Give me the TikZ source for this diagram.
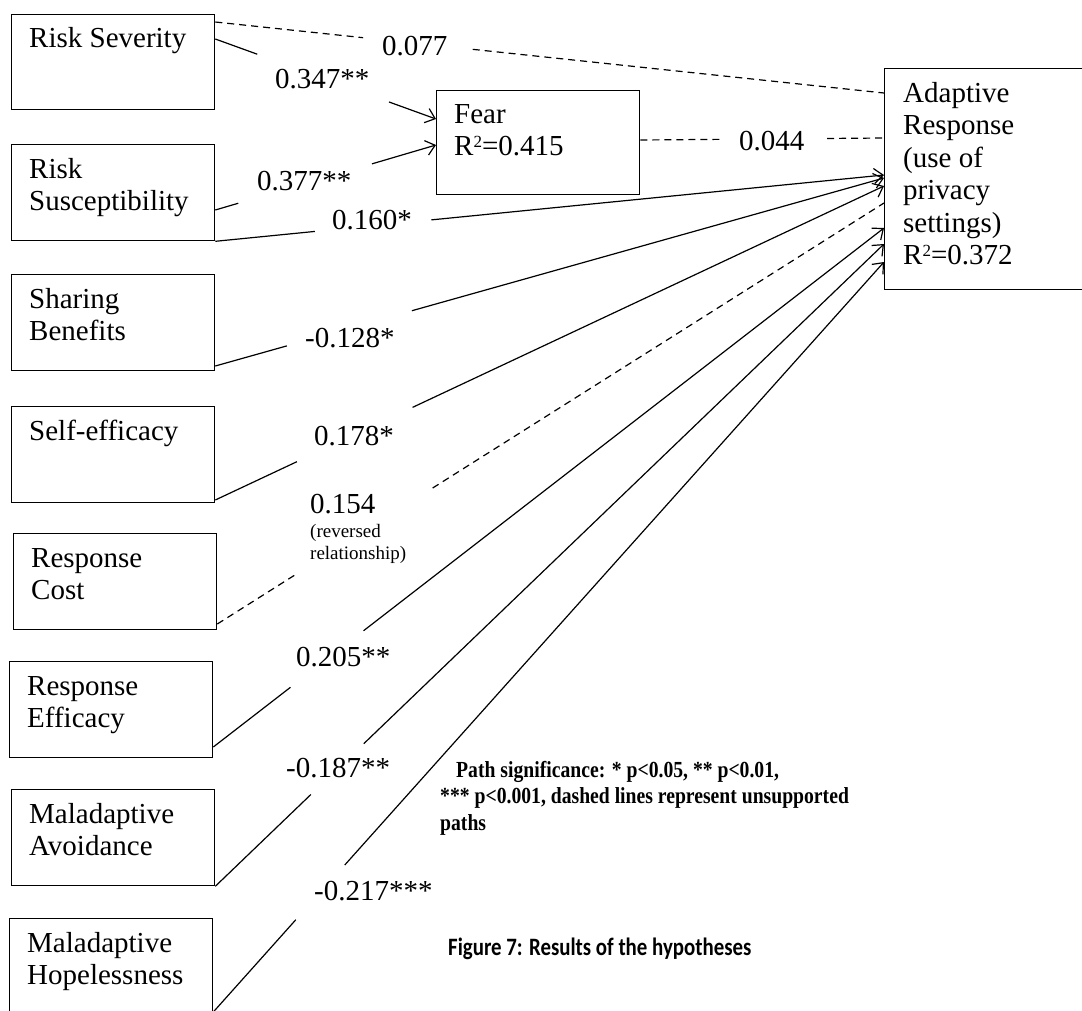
\documentclass[tikz,border=0pt]{standalone}
\usepackage{fontspec}
\setmainfont{Liberation Serif}
\newfontfamily\capfamily[FakeStretch=0.835]{Carlito}
\newfontfamily\notefamily[FakeStretch=0.855]{Liberation Serif}
\usetikzlibrary{arrows.meta,calc}
\newcommand\boxfont{\fontsize{29}{32.5}\selectfont}
\newcommand\smallfont{\fontsize{19}{22}\selectfont}
\newcommand\notefont{\notefamily\bfseries\fontsize{23}{26.5}\selectfont}
\newcommand\capfont{\capfamily\bfseries\fontsize{25}{28}\selectfont}
\newcommand\sqtwo{\raisebox{8pt}{\fontsize{17}{17}\selectfont 2}}
\begin{document}
\begin{tikzpicture}[x=1pt,y=-1pt,
  box/.style={draw, line width=1.3pt, anchor=north west, inner sep=0pt},
  stdbox/.style={box, minimum width=203pt, minimum height=96pt},
  btext/.style={anchor=north west, inner sep=0pt, align=left, font=\boxfont, xshift=18pt, yshift=-13pt},
  lab/.style={anchor=base west, inner sep=0pt, font=\boxfont},
  conn/.style={line width=1.2pt},
  dsh/.style={conn, dash pattern=on 7pt off 5pt},
  arr/.style={conn, -{Straight Barb[length=9pt,width=15pt]}}]

\fill[white] (0,0) rectangle (1082,1010);
\useasboundingbox (0,0) rectangle (1082,1010);
\clip (0,0) rectangle (1082,1010);

% ---------- boxes ----------
\node[stdbox, minimum height=95pt, label={[btext, yshift=1pt]north west:{\rule{0pt}{21pt}Risk Severity}}] (rs) at (11,14) {};
\node[stdbox, label={[btext]north west:{\rule{0pt}{21pt}Risk\\Susceptibility}}] (rsu) at (11,144) {};
\node[stdbox, label={[btext]north west:{\rule{0pt}{21pt}Sharing\\Benefits}}] (sb) at (11,274) {};
\node[stdbox, label={[btext]north west:{\rule{0pt}{21pt}Self-efficacy}}] (se) at (11,406) {};
\node[stdbox, label={[btext]north west:{\rule{0pt}{21pt}Response\\Cost}}] (rc) at (13,533) {};
\node[stdbox, label={[btext]north west:{\rule{0pt}{21pt}Response\\Efficacy}}] (re) at (9,661) {};
\node[stdbox, label={[btext]north west:{\rule{0pt}{21pt}Maladaptive\\Avoidance}}] (ma) at (11,789) {};
\node[stdbox, label={[btext]north west:{\rule{0pt}{21pt}Maladaptive\\Hopelessness}}] (mh) at (9,918) {};
\node[box, minimum width=203pt, minimum height=104pt, label={[btext, yshift=1pt]north west:{\rule{0pt}{21pt}Fear\\R\sqtwo=0.415}}] (fear) at (436,90) {};
\node[box, minimum width=240pt, minimum height=221pt, label={[btext, xshift=1pt]north west:{\rule{0pt}{21pt}Adaptive\\Response\\(use of\\privacy\\settings)\\R\sqtwo=0.372}}] (ar) at (884,68) {};

% ---------- connector end points ----------
\coordinate (c1s) at (rs.east |- 0,22);    \coordinate (c1e) at (ar.west |- 0,93);
\coordinate (c2s) at (rs.east |- 0,39);    \coordinate (c2e) at (fear.west |- 0,119);
\coordinate (c3s) at (rsu.east |- 0,210);  \coordinate (c3e) at (fear.west |- 0,145);
\coordinate (c4s) at (rsu.south east);     \coordinate (c4e) at (ar.west |- 0,175);
\coordinate (c5s) at (fear.east |- 0,140); \coordinate (c5e) at (ar.west |- 0,138);
\coordinate (c6s) at (sb.east |- 0,366);   \coordinate (c6e) at (ar.west |- 0,178);
\coordinate (c7s) at (se.east |- 0,500);   \coordinate (c7e) at (ar.west |- 0,186);
\coordinate (c8s) at (rc.east |- 0,624);   \coordinate (c8e) at (ar.west |- 0,203);
\coordinate (c9s) at (re.east |- 0,747);   \coordinate (c9e) at (ar.west |- 0,228);
\coordinate (c10s) at (ma.south east);     \coordinate (c10e) at (ar.west |- 0,244);
\coordinate (c11s) at (mh.east |- 0,1012); \coordinate (c11e) at (ar.west |- 0,262);

% ---------- connectors (broken where the label sits) ----------
\draw[dsh] (c1s) -- ($(c1s)!0.221!(c1e)$);
\draw[dsh] ($(c1s)!0.385!(c1e)$) -- (c1e);

\draw[conn] (c2s) -- ($(c2s)!0.19!(c2e)$);
\draw[arr] ($(c2s)!0.787!(c2e)$) -- (c2e);

\draw[conn] (c3s) -- ($(c3s)!0.104!(c3e)$);
\draw[arr] ($(c3s)!0.71!(c3e)$) -- (c3e);

\draw[conn] (c4s) -- ($(c4s)!0.149!(c4e)$);
\draw[arr] ($(c4s)!0.323!(c4e)$) -- (c4e);

\draw[dsh] (c5s) -- ($(c5s)!0.33!(c5e)$);
\draw[dsh] ($(c5s)!0.767!(c5e)$) -- (c5e);

\draw[conn] (c6s) -- ($(c6s)!0.107!(c6e)$);
\draw[arr] ($(c6s)!0.294!(c6e)$) -- (c6e);

\draw[conn] (c7s) -- ($(c7s)!0.122!(c7e)$);
\draw[arr] ($(c7s)!0.295!(c7e)$) -- (c7e);

\draw[dsh] (c8s) -- ($(c8s)!0.117!(c8e)$);
\draw[dsh] ($(c8s)!0.323!(c8e)$) -- (c8e);

\draw[conn] (c9s) -- ($(c9s)!0.115!(c9e)$);
\draw[arr] ($(c9s)!0.224!(c9e)$) -- (c9e);

\draw[conn] (c10s) -- ($(c10s)!0.143!(c10e)$);
\draw[arr] ($(c10s)!0.222!(c10e)$) -- (c10e);

\draw[conn] (c11s) -- ($(c11s)!0.123!(c11e)$);
\draw[arr] ($(c11s)!0.196!(c11e)$) -- (c11e);

% ---------- path labels ----------
\node[lab] (l077) at (382,55) {0.077};
\node[lab] (l347) at (275,88) {0.347**};
\node[lab] (l377) at (257,190) {0.377**};
\node[lab] (l160) at (332,229) {0.160*};
\node[lab] (l044) at (739,150) {0.044};
\node[lab] (l128) at (305,347) {-0.128*};
\node[lab] (l178) at (314,445) {0.178*};
\node[lab] (l154) at (310,513) {0.154};
\node[anchor=north west, inner sep=0pt, align=left, font=\smallfont] (l154n) at (310,522) {\rule{0pt}{15pt}(reversed\\relationship)};
\node[lab] (l205) at (296,666) {0.205**};
\node[lab] (l187) at (286,777) {-0.187**};
\node[lab] (l217) at (314,900) {-0.217***};

% ---------- note and caption ----------
\node[anchor=north west, inner sep=0pt, align=left, font=\notefont] (note) at (440,761)
  {\rule{0pt}{16pt}\hspace*{16pt}Path significance: * p<0.05, ** p<0.01,\\{}*** p<0.001, dashed lines represent unsupported\\paths};
\node[anchor=base west, inner sep=0pt, font=\capfont] (cap) at (448,955) {Figure 7: Results of the hypotheses};
\end{tikzpicture}
\end{document}
